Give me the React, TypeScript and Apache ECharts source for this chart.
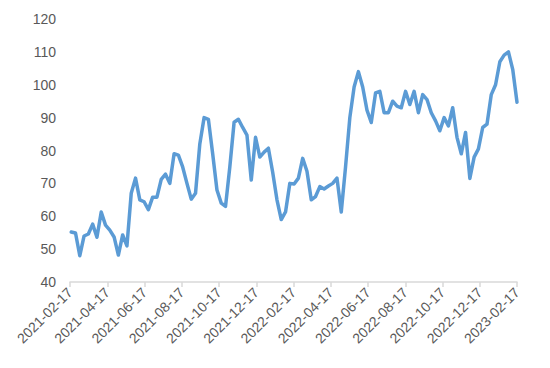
import React, { useEffect, useRef } from "react";
import * as echarts from "echarts";

// Weekly observations, last one on 2023-02-17
const endDate = "2023-02-17";
const axisStart = "2021-02-17";
const values: number[] = [
  55.2, 54.9, 48, 54, 54.6, 57.6, 53.6, 61.3, 57.3, 55.8,
  53.7, 48.2, 54.3, 51, 67, 71.6, 65, 64.4, 62, 65.8,
  65.8, 71.2, 72.8, 70, 79, 78.6, 75, 70, 65.2, 67,
  82, 90, 89.5, 79, 68, 64, 63, 75, 88.6, 89.5,
  87, 84.7, 71, 84, 78, 79.5, 80.7, 73.4, 65, 59,
  61.3, 70, 69.8, 71.6, 77.6, 73.7, 65, 66, 69, 68.3,
  69.2, 70, 71.6, 61.3, 75, 90, 99.3, 104, 99.3, 92.3,
  88.5, 97.5, 98, 91.5, 91.5, 95, 93.5, 93, 98, 94,
  98, 91.5, 97, 95.5, 91.5, 89, 86, 90, 87.5, 93,
  84, 79, 85.5, 71.5, 78, 80.5, 87, 88, 97, 100,
  107, 109, 110, 104.7, 94.7,
];
const yTicks = { min: 40, max: 120, interval: 10 };
const monthsSpan = 24;
const labelStepMonths = 2;

const DAY = 86400000;
const startMs = Date.parse(axisStart + "T00:00:00Z");
const endMs = Date.parse(endDate + "T00:00:00Z");
const totalDays = (Date.parse("2023-02-17T00:00:00Z") - startMs) / DAY;

const seriesData = values.map((v, i) => {
  const t = endMs - 7 * DAY * (values.length - 1 - i);
  const days = (t - startMs) / DAY;
  return [(days / totalDays) * monthsSpan, v];
});

function fmtMonthOffset(v: number): string {
  const k = Math.round(v);
  const d = new Date(Date.UTC(2021, 1 + k, 17));
  const mm = String(d.getUTCMonth() + 1).padStart(2, "0");
  const dd = String(d.getUTCDate()).padStart(2, "0");
  return `${d.getUTCFullYear()}-${mm}-${dd}`;
}

export default function App() {
  const ref = useRef<HTMLDivElement>(null);
  useEffect(() => {
    if (!ref.current) return;
    const chart = echarts.init(ref.current, undefined, { renderer: "svg" });
    chart.setOption({
      animation: false,
      backgroundColor: "#ffffff",
      textStyle: { fontFamily: "Liberation Sans" },
      grid: { left: 62, right: 25, top: 11, bottom: 78, containLabel: false },
      xAxis: {
        type: "value",
        min: 0,
        max: monthsSpan,
        interval: labelStepMonths,
        axisLine: { show: true, lineStyle: { color: "#d9d9d9", width: 1.5 } },
        axisTick: { show: true, length: 5, lineStyle: { color: "#d9d9d9", width: 1.5 } },
        splitLine: { show: false },
        axisLabel: {
          rotate: 45,
          margin: 8,
          color: "#595959",
          fontSize: 14,
          fontFamily: "Liberation Sans",
          formatter: (v: number) => fmtMonthOffset(v),
        },
      },
      yAxis: {
        type: "value",
        min: yTicks.min,
        max: yTicks.max,
        interval: yTicks.interval,
        axisLine: { show: false },
        axisTick: { show: false },
        splitLine: { show: false },
        axisLabel: {
          color: "#595959",
          fontSize: 14,
          margin: 14,
          fontFamily: "Liberation Sans",
        },
      },
      series: [
        {
          type: "line",
          data: seriesData,
          showSymbol: false,
          symbol: "none",
          lineStyle: { color: "#5b9bd5", width: 3.5, join: "round", cap: "round" },
          itemStyle: { color: "#5b9bd5" },
        },
      ],
    });
    return () => chart.dispose();
  }, []);
  return <div ref={ref} style={{ width: 534, height: 352 }} />;
}
